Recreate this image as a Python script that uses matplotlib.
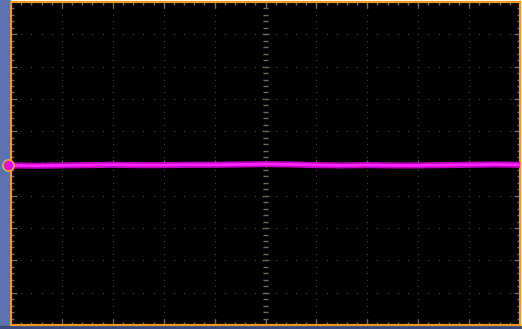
import numpy as np
import matplotlib
matplotlib.use("Agg")
import matplotlib.pyplot as plt
from matplotlib.patches import Rectangle

# Trace level (in vertical divisions) read at evenly spaced horizontal positions (divisions)
trace_x = [0.0, 0.5, 1.0, 1.5, 2.0, 2.5, 3.0, 3.5, 4.0, 4.5, 5.0, 5.5, 6.0, 6.5, 7.0, 7.5, 8.0, 8.5, 9.0, 9.5, 10.0]
trace_y = [-0.06, -0.07, -0.06, -0.05, -0.04, -0.05, -0.05, -0.04, -0.04, -0.03, -0.02, -0.03, -0.05, -0.06, -0.05, -0.06, -0.06, -0.05, -0.04, -0.03, -0.04]
n_hdiv = 10
n_vdiv = 10
sub = 5

W, H = 522, 329
fig = plt.figure(figsize=(W / 100, H / 100), dpi=100, facecolor="white")
fig.patches.append(Rectangle((0, 0), 10 / W, 1, transform=fig.transFigure, color="#5b72ae", zorder=-5))
fig.patches.append(Rectangle((0, 0), 1, 3 / H, transform=fig.transFigure, color="#3a4a80", zorder=-5))

ax = fig.add_axes([11 / W, 4 / H, 509 / W, 323 / H])
ax.set_zorder(1)
ax.set_facecolor("black")
ax.set_xlim(0, n_hdiv)
ax.set_ylim(-n_vdiv / 2, n_vdiv / 2)
ax.set_xticks([]); ax.set_yticks([])
for s in ax.spines.values():
    s.set_color("#f29a1e")
    s.set_linewidth(1.6)

dotc = "#3c3c36"
tickc = "#6f6d5a"
xs_fine = np.arange(0, n_hdiv + 1e-9, 1 / sub)
ys_fine = np.arange(-n_vdiv / 2, n_vdiv / 2 + 1e-9, 1 / sub)
for gx in range(1, n_hdiv):
    if gx == n_hdiv // 2:
        continue
    ax.plot(np.full_like(ys_fine, gx), ys_fine, ls="none", marker="s", ms=0.9, color=dotc, mew=0)
for gy in range(-n_vdiv // 2 + 1, n_vdiv // 2):
    if gy == 0:
        continue
    ax.plot(xs_fine, np.full_like(xs_fine, gy), ls="none", marker="s", ms=0.9, color=dotc, mew=0)

px_x = n_hdiv / 509.0
px_y = n_vdiv / 323.0

def hticks(xc, ys, major_len, minor_len, both=True, side=0):
    for y in ys:
        k = abs(round(y * sub)) % sub == 0
        L = (major_len if k else minor_len) * px_x
        if both:
            ax.plot([xc - L / 2, xc + L / 2], [y, y], color=tickc, lw=1.0, solid_capstyle="butt")
        else:
            ax.plot([xc, xc + side * L], [y, y], color=tickc, lw=1.0, solid_capstyle="butt")

def vticks(yc, xs, major_len, minor_len, both=True, side=0):
    for x in xs:
        k = abs(round(x * sub)) % sub == 0
        L = (major_len if k else minor_len) * px_y
        if both:
            ax.plot([x, x], [yc - L / 2, yc + L / 2], color=tickc, lw=1.0, solid_capstyle="butt")
        else:
            ax.plot([x, x], [yc, yc + side * L], color=tickc, lw=1.0, solid_capstyle="butt")

hticks(n_hdiv / 2, ys_fine[1:-1], 7, 5)
vticks(0, xs_fine[1:-1], 7, 4)
hticks(0, ys_fine[1:-1], 6, 3, both=False, side=1)
hticks(n_hdiv, ys_fine[1:-1], 6, 3, both=False, side=-1)
vticks(-n_vdiv / 2, xs_fine[1:-1], 6, 3, both=False, side=1)
vticks(n_vdiv / 2, xs_fine[1:-1], 6, 3, both=False, side=-1)

ax.plot(trace_x, trace_y, color="#c000c0", lw=4.4, solid_capstyle="butt", zorder=5)
ax.plot(trace_x, trace_y, color="#ff28ff", lw=2.0, solid_capstyle="butt", zorder=6)

ax.plot([-0.06], [trace_y[0]], marker="o", ms=8, mfc="#e010e0", mec="#f2a040", mew=1.2,
        clip_on=False, zorder=10)

fig.savefig("out.png", dpi=100, facecolor=fig.get_facecolor())
